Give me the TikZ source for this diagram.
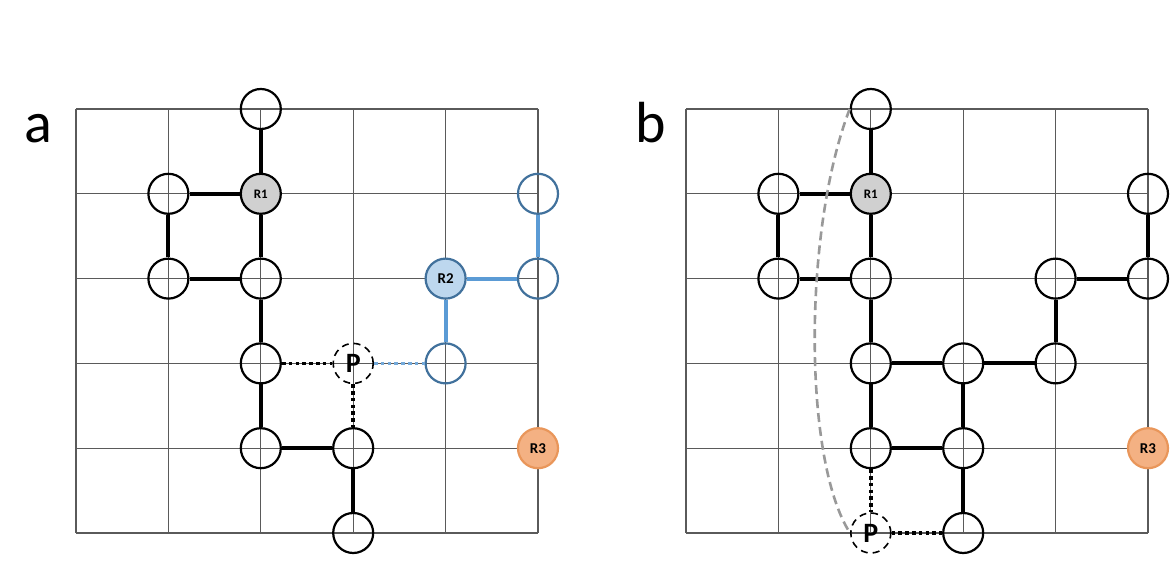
\documentclass[tikz,border=0pt]{standalone}
\usepackage{fontspec}
\setmainfont{Carlito}
\definecolor{gridc}{HTML}{5A5A5A}
\definecolor{rgray}{HTML}{D0D0D0}
\definecolor{bluefill}{HTML}{BDD7EE}
\definecolor{blueline}{HTML}{41719C}
\definecolor{blueedge}{HTML}{5B9BD5}
\definecolor{orfill}{HTML}{F4B183}
\definecolor{orline}{HTML}{E9965A}
\definecolor{curvec}{HTML}{999999}
\tikzset{
  gridline/.style={draw=gridc, line width=0.6pt},
  nd/.style={circle, draw=black, line width=1.1pt, minimum size=20pt, inner sep=0pt},
  bnd/.style={nd, draw=blueline},
  rone/.style={nd, fill=rgray, font=\bfseries\fontsize{6.5}{7}\selectfont},
  rtwo/.style={nd, draw=blueline, fill=bluefill, font=\bfseries\fontsize{7.5}{8}\selectfont},
  rthree/.style={nd, draw=orline, fill=orfill, font=\bfseries\fontsize{7.5}{8}\selectfont},
  pnode/.style={nd, line width=0.8pt, dash pattern=on 3.5pt off 2.5pt, font=\bfseries\fontsize{14}{15}\selectfont},
  edge/.style={line width=2pt, black},
  bedge/.style={line width=2pt, blueedge},
  dotedge/.style={line width=1.8pt, black, dash pattern=on 1.8pt off 1.6pt},
  bdotedge/.style={line width=1.8pt, blueedge!85, dash pattern=on 1.8pt off 1.6pt},
  curve/.style={line width=1.3pt, curvec, dash pattern=on 4.5pt off 2.5pt},
  panel/.style={font=\fontsize{29}{30}\selectfont, anchor=base west, inner sep=0pt}
}
\begin{document}
\begin{tikzpicture}[x=0.5pt, y=-0.5pt]
\useasboundingbox (0,0) rectangle (1173,571);
% grids
\foreach \i in {0,...,5} {
  \draw[gridline] (76+92.4*\i,109) -- (76+92.4*\i,533);
  \draw[gridline] (76,109+84.8*\i) -- (538,109+84.8*\i);
  \draw[gridline] (686+92.4*\i,109) -- (686+92.4*\i,533);
  \draw[gridline] (686,109+84.8*\i) -- (1148,109+84.8*\i);
}
\node[panel] (la) at (24,143) {a};
\node[panel] (lb) at (635,143) {b};
% ---------- panel a ----------
\node[nd] (a20) at (76+92.4*2,109+84.8*0) {};
\node[nd] (a11) at (76+92.4*1,109+84.8*1) {};
\node[rone] (a21) at (76+92.4*2,109+84.8*1) {R1};
\node[nd] (a12) at (76+92.4*1,109+84.8*2) {};
\node[nd] (a22) at (76+92.4*2,109+84.8*2) {};
\node[nd] (a23) at (76+92.4*2,109+84.8*3) {};
\node[pnode] (Pa) at (76+92.4*3,109+84.8*3) {P};
\node[bnd] (a43) at (76+92.4*4,109+84.8*3) {};
\node[nd] (a24) at (76+92.4*2,109+84.8*4) {};
\node[nd] (a34) at (76+92.4*3,109+84.8*4) {};
\node[nd] (a35) at (76+92.4*3,109+84.8*5) {};
\node[rtwo] (a42) at (76+92.4*4,109+84.8*2) {R2};
\node[bnd] (a52) at (76+92.4*5,109+84.8*2) {};
\node[bnd] (a51) at (76+92.4*5,109+84.8*1) {};
\node[rthree] (a54) at (76+92.4*5,109+84.8*4) {R3};
\draw[edge] (a20) -- (a21);
\draw[edge] (a11) -- (a21);
\draw[edge] (a11) -- (a12);
\draw[edge] (a12) -- (a22);
\draw[edge] (a21) -- (a22);
\draw[edge] (a22) -- (a23);
\draw[edge] (a23) -- (a24);
\draw[edge] (a24) -- (a34);
\draw[edge] (a34) -- (a35);
\draw[dotedge] (a23) -- (Pa);
\draw[dotedge] (Pa) -- (a34);
\draw[bdotedge] (Pa) -- (a43);
\draw[bedge] (a43) -- (a42);
\draw[bedge] (a42) -- (a52);
\draw[bedge] (a52) -- (a51);
% ---------- panel b ----------
\node[nd] (b20) at (686+92.4*2,109+84.8*0) {};
\node[nd] (b11) at (686+92.4*1,109+84.8*1) {};
\node[rone] (b21) at (686+92.4*2,109+84.8*1) {R1};
\node[nd] (b12) at (686+92.4*1,109+84.8*2) {};
\node[nd] (b22) at (686+92.4*2,109+84.8*2) {};
\node[nd] (b23) at (686+92.4*2,109+84.8*3) {};
\node[nd] (b33) at (686+92.4*3,109+84.8*3) {};
\node[nd] (b43) at (686+92.4*4,109+84.8*3) {};
\node[nd] (b42) at (686+92.4*4,109+84.8*2) {};
\node[nd] (b52) at (686+92.4*5,109+84.8*2) {};
\node[nd] (b51) at (686+92.4*5,109+84.8*1) {};
\node[nd] (b24) at (686+92.4*2,109+84.8*4) {};
\node[nd] (b34) at (686+92.4*3,109+84.8*4) {};
\node[pnode] (Pb) at (686+92.4*2,109+84.8*5) {P};
\node[nd] (b35) at (686+92.4*3,109+84.8*5) {};
\node[rthree] (b54) at (686+92.4*5,109+84.8*4) {R3};
\draw[edge] (b20) -- (b21);
\draw[edge] (b11) -- (b21);
\draw[edge] (b11) -- (b12);
\draw[edge] (b12) -- (b22);
\draw[edge] (b21) -- (b22);
\draw[edge] (b22) -- (b23);
\draw[edge] (b23) -- (b33);
\draw[edge] (b33) -- (b43);
\draw[edge] (b43) -- (b42);
\draw[edge] (b42) -- (b52);
\draw[edge] (b52) -- (b51);
\draw[edge] (b23) -- (b24);
\draw[edge] (b24) -- (b34);
\draw[edge] (b33) -- (b34);
\draw[edge] (b34) -- (b35);
\draw[dotedge] (b24) -- (Pb);
\draw[dotedge] (Pb) -- (b35);
\draw[curve] (b20.west) .. controls (803,230) and (803,460) .. (Pb.west);
\end{tikzpicture}
\end{document}
